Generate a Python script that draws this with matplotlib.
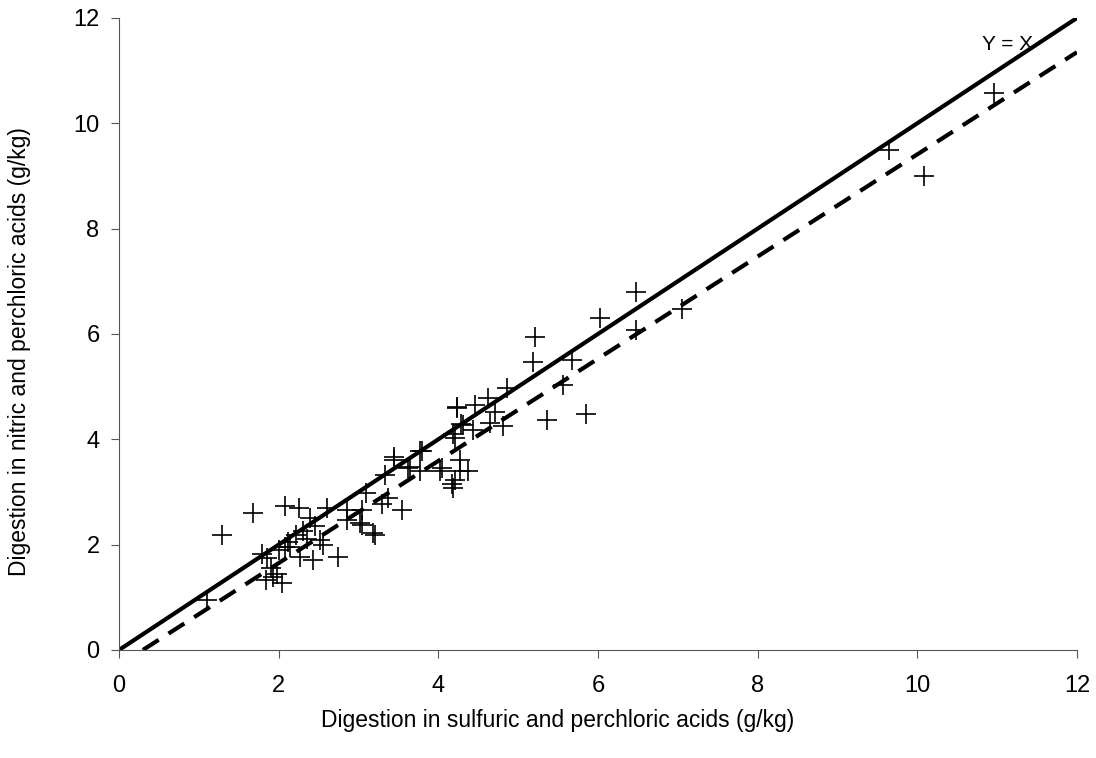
import numpy as np
import matplotlib.pyplot as plt

plt.rcParams['font.family'] = ['Liberation Sans', 'DejaVu Sans']

# sulfuric + perchloric (x) vs nitric + perchloric (y), g/kg
x = [1.10, 1.29, 1.68, 2.08, 2.26, 2.60, 1.79, 1.84, 1.93, 2.04, 2.08, 2.27,
     2.43, 2.52, 2.74, 2.39, 2.22, 2.85, 3.02, 3.18, 1.85, 2.14, 1.98, 2.00,
     2.12, 2.30, 2.45, 2.55, 1.90, 2.35,
     3.44, 3.62, 3.33, 3.77, 4.02, 4.17, 3.10, 3.37, 3.29, 3.54, 3.04, 2.85,
     3.04, 3.21, 3.44, 3.77, 3.65, 4.04, 4.27, 4.37, 4.21, 4.19, 4.27,
     4.23, 4.46, 4.62, 4.71, 4.31, 4.44, 4.65, 4.21, 4.81, 4.86, 4.24, 4.29,
     4.19, 3.79,
     5.21, 5.19, 5.36, 5.67, 5.56, 5.85, 6.48, 6.03, 6.48, 7.05,
     9.65, 10.08, 10.96]
y = [0.95, 2.18, 2.60, 2.73, 2.70, 2.69, 1.82, 1.33, 1.39, 1.28, 1.96, 1.77,
     1.71, 2.09, 1.77, 2.50, 2.18, 2.66, 2.41, 2.22, 1.75, 1.96, 1.45, 1.90,
     2.05, 2.25, 2.35, 2.00, 1.55, 2.10,
     3.67, 3.45, 3.32, 3.39, 3.39, 3.16, 2.98, 2.88, 2.78, 2.66, 2.66, 2.47,
     2.37, 2.18, 3.60, 3.77, 3.48, 3.45, 3.61, 3.39, 3.23, 3.07, 3.39,
     4.59, 4.65, 4.78, 4.52, 4.27, 4.18, 4.31, 4.02, 4.25, 4.97, 4.62, 4.30,
     4.11, 3.77,
     5.95, 5.47, 4.37, 5.51, 5.03, 4.49, 6.80, 6.30, 6.08, 6.47,
     9.49, 9.00, 10.57]

# regression line (dashed)
slope = 0.97
intercept = -0.29

fig = plt.figure(figsize=(10.96, 7.58), dpi=100)
ax = fig.add_axes([0.1086, 0.1425, 0.874, 0.8338])

ax.plot(x, y, linestyle='none', marker='+', color='black',
        markersize=15, markeredgewidth=1.2)

xs = np.array([0, 12])
ax.plot(xs, xs, color='black', linewidth=3)
xd = np.array([-intercept / slope, 12])
ax.plot(xd, slope * xd + intercept, color='black', linewidth=3,
        linestyle=(0, (4.5, 2.8)))

ax.text(11.45, 11.5, 'Y = X', fontsize=15, va='center', ha='right')

ax.set_xlim(0, 12)
ax.set_ylim(0, 12)
ax.set_xticks(range(0, 13, 2))
ax.set_yticks(range(0, 13, 2))
ax.spines['top'].set_visible(False)
ax.spines['right'].set_visible(False)
ax.spines['left'].set_color('#555555')
ax.spines['bottom'].set_color('#555555')
ax.tick_params(direction='out', length=6, color='#555555', labelsize=17)
ax.tick_params(axis='x', pad=12)
ax.tick_params(axis='y', pad=8)

fig.text(558 / 1096, 1 - 720 / 758,
         'Digestion in sulfuric and perchloric acids (g/kg)',
         fontsize=16.5, ha='center', va='center')
fig.text(20 / 1096, 1 - 352 / 758,
         'Digestion in nitric and perchloric acids (g/kg)',
         fontsize=16.5, ha='center', va='center', rotation=90)

fig.savefig('out.png')
